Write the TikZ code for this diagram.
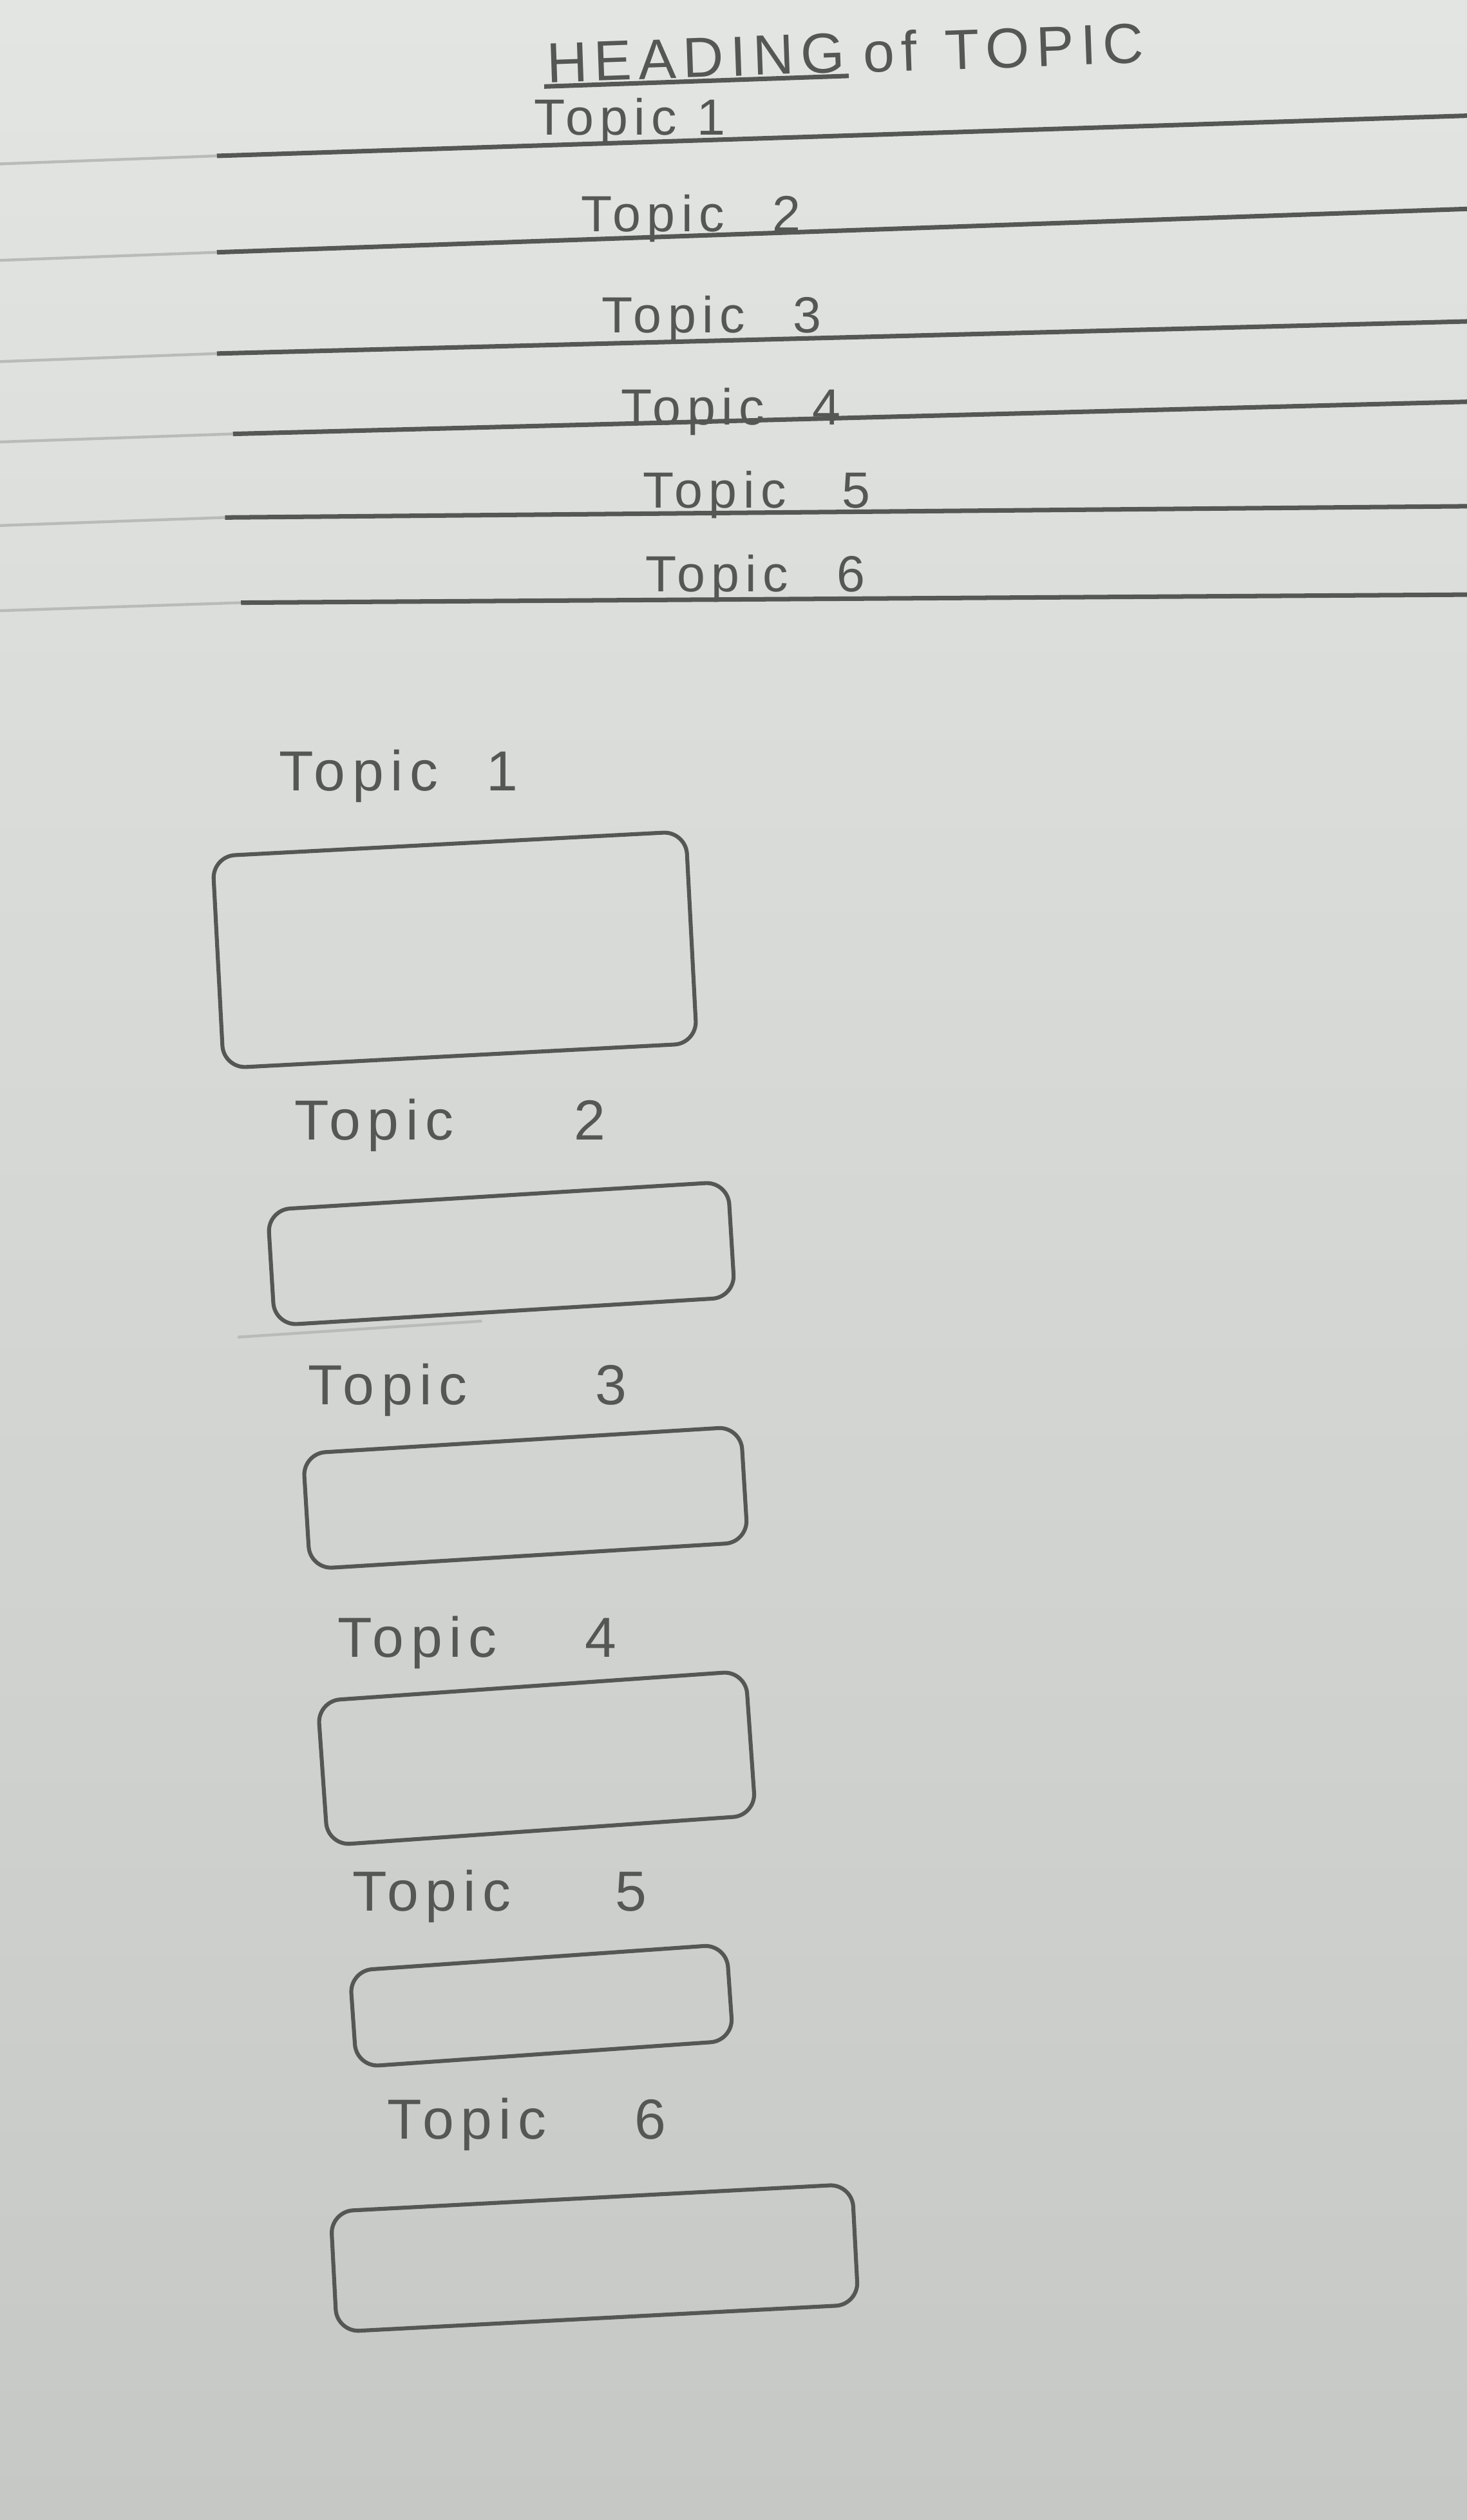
\documentclass[tikz,border=0pt]{standalone}
\usepackage{fontspec}
\newfontfamily\sketchfont[LetterSpace=12]{Liberation Sans}
\usetikzlibrary{positioning}

\definecolor{paperTop}{HTML}{E3E5E2}
\definecolor{paperBot}{HTML}{C5C8C4}
\definecolor{pencil}{HTML}{555755}
\definecolor{printline}{HTML}{B8BBB8}

\tikzset{
  pencilline/.style={draw=pencil, line width=1.6pt},
  paperline/.style={draw=printline, line width=1pt},
  listtext/.style={text=pencil, font=\sketchfont\fontsize{18}{20}\selectfont, inner sep=1pt},
  headtext/.style={text=pencil, font=\sketchfont\fontsize{20}{22}\selectfont, inner sep=1pt},
  labeltext/.style={text=pencil, font=\sketchfont\fontsize{20}{22}\selectfont, inner sep=1pt},
  topicbox/.style={draw=pencil, line width=1.4pt, rounded corners=8pt, minimum width=#1}
}

\begin{document}
\begin{tikzpicture}

\shade[top color=paperTop, bottom color=paperBot] (0,0) rectangle (18.26,-31.36);
\useasboundingbox (0,0) rectangle (18.26,-31.36);

% ruled lines
\foreach \ya/\yb/\xs in {-1.94/-1.44/2.7, -3.14/-2.60/2.7, -4.40/-4.00/2.7, -5.40/-5.00/2.9, -6.44/-6.30/2.8, -7.50/-7.40/3.0} {
  \draw[paperline] (0,\ya-0.1) -- (\xs,\ya);
  \draw[pencilline] (\xs,\ya) -- (18.26,\yb);
}
\draw[paperline] (2.96,-16.64) -- (6.0,-16.44);

% heading
\node[headtext, rotate=2] (head) at (8.66,-0.72) {HEADING};
\node[headtext, rotate=2, right=0.15cm of head] (headrest) {of\hspace{0.35cm}TOPIC};
\draw[pencilline] (head.south west) -- (head.south east);

% list of topics
\node[listtext] (list1) at (7.84,-1.52) {Topic 1};
\node[listtext] (list2) at (8.60,-2.72) {Topic\hspace{0.6cm}2};
\node[listtext] (list3) at (8.86,-3.98) {Topic\hspace{0.6cm}3};
\node[listtext] (list4) at (9.10,-5.12) {Topic\hspace{0.6cm}4};
\node[listtext] (list5) at (9.42,-6.16) {Topic\hspace{0.7cm}5};
\node[listtext] (list6) at (9.40,-7.20) {Topic\hspace{0.6cm}6};

% boxes
\begin{scope}[rotate=0]
  \node[labeltext] (label1) at (4.96,-9.66) {Topic\hspace{0.6cm}1};
  \node[topicbox=5.9cm, minimum height=2.64cm, rotate=3] (box1) at (5.66,-11.82) {};

  \node[labeltext] (label2) at (5.60,-14.00) {Topic\hspace{1.5cm}2};
  \node[topicbox=5.74cm, minimum height=1.44cm, rotate=3.5] (box2) at (6.24,-15.60) {};

  \node[labeltext] (label3) at (5.82,-17.30) {Topic\hspace{1.6cm}3};
  \node[topicbox=5.46cm, minimum height=1.44cm, rotate=3.5] (box3) at (6.54,-18.64) {};

  \node[labeltext] (label4) at (5.94,-20.44) {Topic\hspace{1.1cm}4};
  \node[topicbox=5.34cm, minimum height=1.8cm, rotate=4] (box4) at (6.68,-21.88) {};

  \node[labeltext] (label5) at (6.22,-23.60) {Topic\hspace{1.3cm}5};
  \node[topicbox=4.7cm, minimum height=1.2cm, rotate=4] (box5) at (6.74,-24.96) {};

  \node[labeltext] (label6) at (6.56,-26.44) {Topic\hspace{1.1cm}6};
  \node[topicbox=6.5cm, minimum height=1.5cm, rotate=3] (box6) at (7.40,-28.10) {};
\end{scope}

\end{tikzpicture}
\end{document}
